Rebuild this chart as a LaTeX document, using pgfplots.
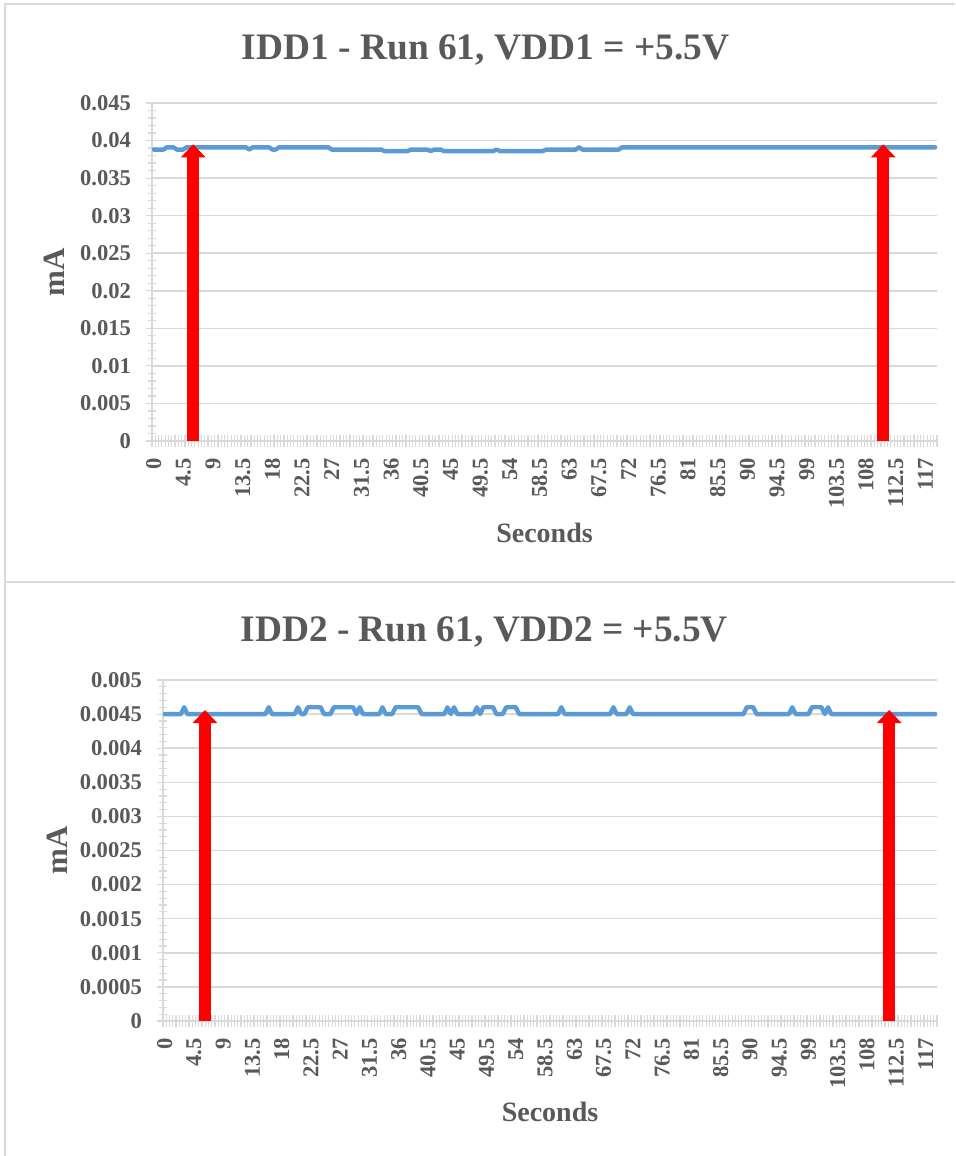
\documentclass[border=0pt]{standalone}
\usepackage{fontspec}
\setmainfont{Liberation Serif}
\usepackage{pgfplots}
\usepackage{pgfplotstable}
\pgfplotsset{compat=1.18}
\usetikzlibrary{arrows.meta}
\definecolor{txt}{HTML}{595959}
\definecolor{grd}{HTML}{D9D9D9}
\definecolor{ln}{HTML}{5B9BD5}

\pgfplotstableread{
t a b
0 0.0388 0.0045
0.5 0.0388 0.0045
1 0.0388 0.0045
1.5 0.0388 0.0045
2 0.0391 0.0045
2.5 0.0391 0.0045
3 0.0391 0.0046
3.5 0.0388 0.0045
4 0.0388 0.0045
4.5 0.0388 0.0045
5 0.0391 0.0045
5.5 0.0391 0.0045
6 0.0391 0.0045
6.5 0.0391 0.0045
7 0.0391 0.0045
7.5 0.0391 0.0045
8 0.0391 0.0045
8.5 0.0391 0.0045
9 0.0391 0.0045
9.5 0.0391 0.0045
10 0.0391 0.0045
10.5 0.0391 0.0045
11 0.0391 0.0045
11.5 0.0391 0.0045
12 0.0391 0.0045
12.5 0.0391 0.0045
13 0.0391 0.0045
13.5 0.0391 0.0045
14 0.0391 0.0045
14.5 0.0388 0.0045
15 0.0391 0.0045
15.5 0.0391 0.0045
16 0.0391 0.0046
16.5 0.0391 0.0045
17 0.0391 0.0045
17.5 0.0391 0.0045
18 0.0388 0.0045
18.5 0.0388 0.0045
19 0.0391 0.0045
19.5 0.0391 0.0045
20 0.0391 0.0045
20.5 0.0391 0.0046
21 0.0391 0.0045
21.5 0.0391 0.0045
22 0.0391 0.0046
22.5 0.0391 0.0046
23 0.0391 0.0046
23.5 0.0391 0.0046
24 0.0391 0.0046
24.5 0.0391 0.0045
25 0.0391 0.0045
25.5 0.0391 0.0045
26 0.0391 0.0046
26.5 0.0391 0.0046
27 0.0388 0.0046
27.5 0.0388 0.0046
28 0.0388 0.0046
28.5 0.0388 0.0046
29 0.0388 0.0046
29.5 0.0388 0.0045
30 0.0388 0.0046
30.5 0.0388 0.0045
31 0.0388 0.0045
31.5 0.0388 0.0045
32 0.0388 0.0045
32.5 0.0388 0.0045
33 0.0388 0.0045
33.5 0.0388 0.0046
34 0.0388 0.0045
34.5 0.0388 0.0045
35 0.0386 0.0045
35.5 0.0386 0.0046
36 0.0386 0.0046
36.5 0.0386 0.0046
37 0.0386 0.0046
37.5 0.0386 0.0046
38 0.0386 0.0046
38.5 0.0386 0.0046
39 0.0388 0.0046
39.5 0.0388 0.0045
40 0.0388 0.0045
40.5 0.0388 0.0045
41 0.0388 0.0045
41.5 0.0388 0.0045
42 0.0386 0.0045
42.5 0.0388 0.0045
43 0.0388 0.0045
43.5 0.0388 0.0046
44 0.0386 0.0045
44.5 0.0386 0.0046
45 0.0386 0.0045
45.5 0.0386 0.0045
46 0.0386 0.0045
46.5 0.0386 0.0045
47 0.0386 0.0045
47.5 0.0386 0.0045
48 0.0386 0.0046
48.5 0.0386 0.0045
49 0.0386 0.0046
49.5 0.0386 0.0046
50 0.0386 0.0046
50.5 0.0386 0.0046
51 0.0386 0.0045
51.5 0.0386 0.0045
52 0.0388 0.0045
52.5 0.0386 0.0046
53 0.0386 0.0046
53.5 0.0386 0.0046
54 0.0386 0.0046
54.5 0.0386 0.0045
55 0.0386 0.0045
55.5 0.0386 0.0045
56 0.0386 0.0045
56.5 0.0386 0.0045
57 0.0386 0.0045
57.5 0.0386 0.0045
58 0.0386 0.0045
58.5 0.0386 0.0045
59 0.0386 0.0045
59.5 0.0388 0.0045
60 0.0388 0.0045
60.5 0.0388 0.0045
61 0.0388 0.0046
61.5 0.0388 0.0045
62 0.0388 0.0045
62.5 0.0388 0.0045
63 0.0388 0.0045
63.5 0.0388 0.0045
64 0.0388 0.0045
64.5 0.0391 0.0045
65 0.0388 0.0045
65.5 0.0388 0.0045
66 0.0388 0.0045
66.5 0.0388 0.0045
67 0.0388 0.0045
67.5 0.0388 0.0045
68 0.0388 0.0045
68.5 0.0388 0.0045
69 0.0388 0.0046
69.5 0.0388 0.0045
70 0.0388 0.0045
70.5 0.0388 0.0045
71 0.0391 0.0045
71.5 0.0391 0.0046
72 0.0391 0.0045
72.5 0.0391 0.0045
73 0.0391 0.0045
73.5 0.0391 0.0045
74 0.0391 0.0045
74.5 0.0391 0.0045
75 0.0391 0.0045
75.5 0.0391 0.0045
76 0.0391 0.0045
76.5 0.0391 0.0045
77 0.0391 0.0045
77.5 0.0391 0.0045
78 0.0391 0.0045
78.5 0.0391 0.0045
79 0.0391 0.0045
79.5 0.0391 0.0045
80 0.0391 0.0045
80.5 0.0391 0.0045
81 0.0391 0.0045
81.5 0.0391 0.0045
82 0.0391 0.0045
82.5 0.0391 0.0045
83 0.0391 0.0045
83.5 0.0391 0.0045
84 0.0391 0.0045
84.5 0.0391 0.0045
85 0.0391 0.0045
85.5 0.0391 0.0045
86 0.0391 0.0045
86.5 0.0391 0.0045
87 0.0391 0.0045
87.5 0.0391 0.0045
88 0.0391 0.0045
88.5 0.0391 0.0045
89 0.0391 0.0045
89.5 0.0391 0.0046
90 0.0391 0.0046
90.5 0.0391 0.0046
91 0.0391 0.0045
91.5 0.0391 0.0045
92 0.0391 0.0045
92.5 0.0391 0.0045
93 0.0391 0.0045
93.5 0.0391 0.0045
94 0.0391 0.0045
94.5 0.0391 0.0045
95 0.0391 0.0045
95.5 0.0391 0.0045
96 0.0391 0.0045
96.5 0.0391 0.0046
97 0.0391 0.0045
97.5 0.0391 0.0045
98 0.0391 0.0045
98.5 0.0391 0.0045
99 0.0391 0.0045
99.5 0.0391 0.0046
100 0.0391 0.0046
100.5 0.0391 0.0046
101 0.0391 0.0046
101.5 0.0391 0.0045
102 0.0391 0.0046
102.5 0.0391 0.0045
103 0.0391 0.0045
103.5 0.0391 0.0045
104 0.0391 0.0045
104.5 0.0391 0.0045
105 0.0391 0.0045
105.5 0.0391 0.0045
106 0.0391 0.0045
106.5 0.0391 0.0045
107 0.0391 0.0045
107.5 0.0391 0.0045
108 0.0391 0.0045
108.5 0.0391 0.0045
109 0.0391 0.0045
109.5 0.0391 0.0045
110 0.0391 0.0045
110.5 0.0391 0.0045
111 0.0391 0.0045
111.5 0.0391 0.0045
112 0.0391 0.0045
112.5 0.0391 0.0045
113 0.0391 0.0045
113.5 0.0391 0.0045
114 0.0391 0.0045
114.5 0.0391 0.0045
115 0.0391 0.0045
115.5 0.0391 0.0045
116 0.0391 0.0045
116.5 0.0391 0.0045
117 0.0391 0.0045
117.5 0.0391 0.0045
118 0.0391 0.0045
118.5 0.0391 0.0045
}\runtbl

\pgfplotsset{excel/.style={
  scale only axis,
  anchor=south west,
  xmin=-0.25, xmax=118.75,
  ymin=0,
  scaled y ticks=false,
  axis lines=left,
  axis line style={draw=grd, line width=0.75pt, -},
  tick align=center,
  major tick length=6pt,
  minor tick length=4pt,
  tick style={draw=grd, line width=0.6pt},
  xtick={-0.25,0.25,...,118.75},
  xticklabels={},
  extra x ticks={0,4.5,9,13.5,18,22.5,27,31.5,36,40.5,45,49.5,54,58.5,63,67.5,72,76.5,81,85.5,90,94.5,99,103.5,108,112.5,117},
  extra x tick labels={0,4.5,9,13.5,18,22.5,27,31.5,36,40.5,45,49.5,54,58.5,63,67.5,72,76.5,81,85.5,90,94.5,99,103.5,108,112.5,117},
  extra x tick style={major tick length=0pt, grid=none},
  xticklabel style={rotate=90, anchor=east, xshift=-5pt},
  yticklabel style={xshift=-4pt},
  minor y tick num=4,
  ymajorgrids,
  major grid style={draw=grd, line width=0.75pt},
  tick label style={text=txt, font=\fontsize{11.3}{13}\selectfont\bfseries},
  xlabel style={text=txt, font=\fontsize{14}{16}\selectfont\bfseries},
  ylabel style={text=txt, font=\fontsize{15.5}{17}\selectfont\bfseries},
  title style={text=txt, font=\fontsize{18.7}{22}\selectfont\bfseries, anchor=center},
  xlabel={Seconds},
  ylabel={mA},
}}

\begin{document}
\begin{tikzpicture}
\path[use as bounding box] (0pt,0pt) rectangle (477.5pt,578pt);
\draw[grd, line width=1pt] (2.5pt,0pt) -- (2.5pt,575.75pt) -- (477.5pt,575.75pt);
\draw[grd, line width=1pt] (2.5pt,287pt) -- (477.5pt,287pt);

\begin{axis}[excel,
  at={(76pt,357.5pt)},
  width=392.5pt, height=169pt,
  ymax=0.045,
  ytick={0,0.005,0.01,0.015,0.02,0.025,0.03,0.035,0.04,0.045},
  yticklabels={0,0.005,0.01,0.015,0.02,0.025,0.03,0.035,0.04,0.045},
  title={IDD1 - Run 61, VDD1 = +5.5V},
  title style={at={(axis description cs:0.425,1.12)}},
  xlabel style={at={(axis description cs:0.5,-0.272)}, anchor=center},
  ylabel style={at={(axis description cs:-0.124,0.5)}, anchor=center},
]
\addplot[ln, line width=2.2pt, line join=round, line cap=round] table[x=t, y=a] {\runtbl};
\addplot[red, line width=6pt, -{Triangle[width=12pt,length=6.5pt]}] coordinates {(6.0,0) (6.0,0.0395)};
\addplot[red, line width=6pt, -{Triangle[width=12pt,length=6.5pt]}] coordinates {(110.6,0) (110.6,0.0395)};
\end{axis}

\begin{axis}[excel,
  at={(81.5pt,67.5pt)},
  width=387pt, height=170.5pt,
  ymax=0.005,
  ytick={0,0.0005,0.001,0.0015,0.002,0.0025,0.003,0.0035,0.004,0.0045,0.005},
  yticklabels={0,0.0005,0.001,0.0015,0.002,0.0025,0.003,0.0035,0.004,0.0045,0.005},
  title={IDD2 - Run 61, VDD2 = +5.5V},
  title style={at={(axis description cs:0.415,1.106)}},
  xlabel style={at={(axis description cs:0.5,-0.267)}, anchor=center},
  ylabel style={at={(axis description cs:-0.137,0.5)}, anchor=center},
]
\addplot[ln, line width=2.2pt, line join=round, line cap=round] table[x=t, y=b] {\runtbl};
\addplot[red, line width=6pt, -{Triangle[width=12pt,length=6.5pt]}] coordinates {(6.2,0) (6.2,0.00456)};
\addplot[red, line width=6pt, -{Triangle[width=12pt,length=6.5pt]}] coordinates {(111.4,0) (111.4,0.00456)};
\end{axis}
\end{tikzpicture}
\end{document}
